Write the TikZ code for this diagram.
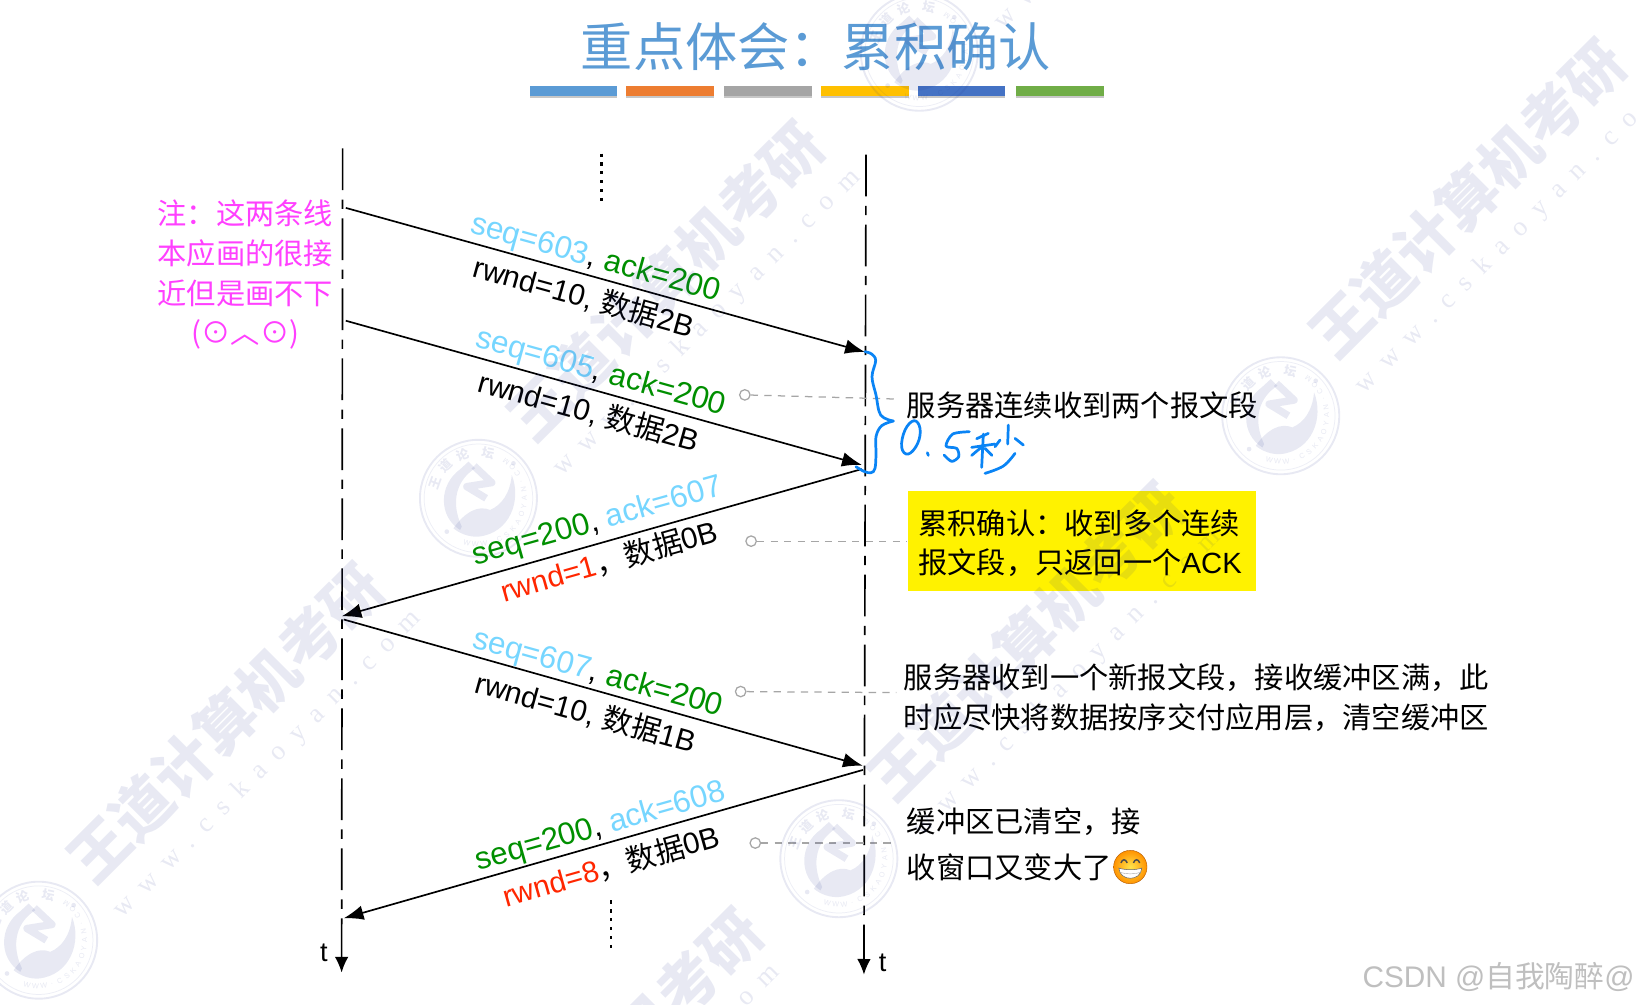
\documentclass[tikz,border=0pt]{standalone}
\usepackage{fontspec}
\setmainfont{Liberation Sans}
\newfontfamily\cjk{Noto Sans CJK SC}
\newfontfamily\wmserif[LetterSpace=50]{Liberation Serif}
\usetikzlibrary{arrows.meta}
\definecolor{titleblue}{HTML}{5B9BD5}
\definecolor{seqcyan}{HTML}{76D6FF}
\definecolor{ackgreen}{HTML}{008F00}
\definecolor{rwndred}{HTML}{FF2600}
\definecolor{notemag}{HTML}{FF40FF}
\definecolor{leadgray}{HTML}{A6A6A6}
\definecolor{handblue}{HTML}{0A84F5}
\definecolor{wmark}{HTML}{1F2F8F}
\newcommand{\segA}[1]{\textcolor{seqcyan}{#1}}
\newcommand{\segG}[1]{\textcolor{ackgreen}{#1}}
\newcommand{\segR}[1]{\textcolor{rwndred}{#1}}
\newcommand{\fwc}{^^^^ff0c}
\newcommand{\fwk}{^^^^ff1a}
\newcommand{\ccomma}{{\cjk\fwc}}
\newcommand{\urltext}{www.cskaoyan.com}
\tikzset{
  lifeline/.style={line width=1.6pt,dash pattern=on 40pt off 9pt on 9pt off 9pt,-{Latex[length=15pt,width=13pt]}},
  msg/.style={line width=1.6pt,-{Latex[length=19pt,width=14pt]}},
  seqlabel/.style={font=\fontsize{30}{30}\selectfont,inner sep=0pt,anchor=center},
  msglabel/.style={font=\fontsize{28.5}{28.5}\selectfont,inner sep=0pt,anchor=center},
  notetext/.style={font=\cjk\fontsize{28}{38}\selectfont,text=notemag,align=center,inner sep=0pt},
  sidetext/.style={font=\cjk\fontsize{28}{38}\selectfont,align=left,inner sep=0pt,anchor=west},
  leaddot/.style={circle,draw=leadgray,line width=1.2pt,fill=white,minimum size=10pt,inner sep=0pt},
  leader/.style={draw=leadgray,line width=1.2pt,dash pattern=on 7pt off 6pt},
  dotsline/.style={line width=2.4pt,dash pattern=on 3pt off 5.5pt},
  barstyle/.style={inner sep=0pt,minimum height=9pt,minimum width=84pt},
  hand/.style={draw=handblue,line width=2.6pt,line cap=round,line join=round},
  wmtext/.style={font=\cjk\bfseries\fontsize{57}{57}\selectfont,text=wmark,text opacity=.10,rotate=45,inner sep=0pt},
  wmurl/.style={font=\wmserif\fontsize{26}{26}\selectfont,text=wmark,text opacity=.10,rotate=45,inner sep=0pt},
  sealtxt/.style={font=\cjk\bfseries\fontsize{12}{12}\selectfont,text=wmark,text opacity=.10,inner sep=0pt},
  sealurl/.style={font=\fontsize{7}{7}\selectfont,text=wmark,text opacity=.10,inner sep=0pt},
  seal/.pic={
    \draw[wmark,opacity=.10,line width=1.8pt] (0,0) circle (56);
    \draw[wmark,opacity=.08,line width=.7pt] (0,0) circle (52);
    \path (160:44pt) node[sealtxt,rotate=70] {王};
    \path (135:44pt) node[sealtxt,rotate=45] {道};
    \path (110:44pt) node[sealtxt,rotate=20] {论};
    \path (78:44pt) node[sealtxt,rotate=-12] {坛};
    \foreach \ch [count=\k] in {W,W,W,.,C,S,K,A,O,Y,A,N,.,C,O,M}{
      \pgfmathsetmacro{\ang}{245+\k*10.5}
      \path (\ang:44pt) node[sealurl,rotate=\ang+90] {\ch};
    }
    \begin{scope}[shift={(-65.4,-65.4)},x=.319pt,y=-.319pt]
      \fill[wmark,opacity=.10] (175,95) -- (195,115) .. controls (140,150) and (120,215) .. (155,290)
        -- (150,300) .. controls (85,260) and (85,165) .. (150,118) -- cycle;
      \fill[wmark,opacity=.10] (130,295) .. controls (165,245) and (205,225) .. (240,240)
        .. controls (275,225) and (300,190) .. (305,135)
        .. controls (335,210) and (300,310) .. (205,320) .. controls (180,322) and (150,312) .. (130,295) -- cycle;
      \draw[wmark,opacity=.10,line width=7pt,line join=round] (192,108) -- (245,158) -- (170,170) -- (228,205);
      \fill[wmark,opacity=.10] (310,100) circle (7);
      \fill[wmark,opacity=.10] (110,305) circle (7);
    \end{scope}
  },
}
\begin{document}
\begin{tikzpicture}[x=1pt,y=-1pt]
\useasboundingbox (0,0) rectangle (1568,962);
\clip (0,0) rectangle (1568,962);
\fill[white] (0,0) rectangle (1568,962);

% title and bars
\node[font=\cjk\fontsize{50}{50}\selectfont,text=titleblue,inner sep=0pt] (title) at (781,45) {重点体会\fwk 累积确认};
\foreach \bx/\bc [count=\i] in {549/5B9BD5,641/ED7D31,735/A5A5A5,828/FFC000,920.5/4472C4,1015/70AD47}{
  \definecolor{bc}{HTML}{\bc}
  \fill[black!22] (\bx-42,86) rectangle (\bx+42,94);
  \node[barstyle,fill=bc] (bar\i) at (\bx,87) {};
}

% lifelines
\coordinate (ltop) at (328,142);
\coordinate (lbot) at (327,931);
\coordinate (rtop) at (829,148);
\coordinate (rbot) at (827,933);
\draw[lifeline] (ltop) -- (lbot);
\draw[lifeline] (rtop) -- (rbot);
\node[font=\fontsize{26}{26}\selectfont,inner sep=0pt] (tl) at (310,912) {t};
\node[font=\fontsize{26}{26}\selectfont,inner sep=0pt] (tr) at (845,922) {t};

% vertical dots
\coordinate (d1a) at (576,147); \coordinate (d1b) at (576,197);
\coordinate (d2a) at (585,862); \coordinate (d2b) at (585,911);
\draw[dotsline] (d1a) -- (d1b);
\draw[dotsline] (d2a) -- (d2b);

% messages
\coordinate (m1a) at (331,199); \coordinate (m1b) at (828,337);
\coordinate (m2a) at (331,307); \coordinate (m2b) at (825,445);
\coordinate (m3a) at (825,449); \coordinate (m3b) at (327,590);
\coordinate (m4a) at (329,593); \coordinate (m4b) at (826,733);
\coordinate (m5a) at (826,737); \coordinate (m5b) at (329,879);
\draw[msg] (m1a) -- (m1b);
\draw[msg] (m2a) -- (m2b);
\draw[msg] (m3a) -- (m3b);
\draw[msg] (m4a) -- (m4b);
\draw[msg] (m5a) -- (m5b);

% message labels
\node[seqlabel,rotate=-15.5] (l1a) at (570,248) {\segA{seq=603}, \segG{ack=200}};
\node[msglabel,rotate=-15.5] (l1b) at (559,284) {rwnd=10, {\cjk 数据}2B};
\node[seqlabel,rotate=-15.5] (l2a) at (575,357) {\segA{seq=605}, \segG{ack=200}};
\node[msglabel,rotate=-15.5] (l2b) at (564,394) {rwnd=10, {\cjk 数据}2B};
\node[seqlabel,rotate=15.8] (l3a) at (572,500) {\segG{seq=200}, \segA{ack=607}};
\node[msglabel,rotate=15.8] (l3b) at (583,537) {\segR{rwnd=1}\ccomma{\cjk 数据}0B};
\node[seqlabel,rotate=-15.5] (l4a) at (572,645) {\segA{seq=607}, \segG{ack=200}};
\node[msglabel,rotate=-15.5] (l4b) at (561,682) {rwnd=10, {\cjk 数据}1B};
\node[seqlabel,rotate=15.8] (l5a) at (575,792) {\segG{seq=200}, \segA{ack=608}};
\node[msglabel,rotate=15.8] (l5b) at (585,829) {\segR{rwnd=8}\ccomma{\cjk 数据}0B};

% note on the left
\node[notetext] (note) at (235,263) {注\fwk 这两条线\\本应画的很接\\近但是画不下\\(⊙︿⊙)};

% leaders
\node[leaddot] (c1) at (713,378) {}; \coordinate (e1) at (858,382);
\node[leaddot] (c2) at (719,518) {}; \coordinate (e2) at (868,518);
\node[leaddot] (c3) at (709,662) {}; \coordinate (e3) at (858,663);
\node[leaddot] (c4) at (723,807) {}; \coordinate (e4) at (858,807);
\draw[leader] (c1) -- (e1);
\draw[leader] (c2) -- (e2);
\draw[leader] (c3) -- (e3);
\draw[leader] (c4) -- (e4);

% side texts
\node[sidetext] (s1) at (868,388) {服务器连续收到两个报文段};
\fill[yellow] (869,470) rectangle (1202,566);
\node[sidetext] (s2) at (879,520) {累积确认\fwk 收到多个连续\\报文段\fwc 只返回一个{\rmfamily ACK}};
\node[sidetext] (s3) at (865,668) {服务器收到一个新报文段\fwc 接收缓冲区满\fwc 此\\时应尽快将数据按序交付应用层\fwc 清空缓冲区};
\node[sidetext] (s4) at (868,787) {缓冲区已清空\fwc 接};
\node[sidetext] (s5) at (868,830) {收窗口又变大了};

% emoji
\begin{scope}[shift={(1082,830)}]
  \shade[inner color=yellow!70!orange!70!white,outer color=orange!85!yellow,draw=orange!70!black,line width=.4pt] (0,0) circle (16);
  \draw[line width=1.4pt,black!70] (-9,-4) .. controls (-7.5,-8) and (-4.5,-8) .. (-3,-4);
  \draw[line width=1.4pt,black!70] (3,-4) .. controls (4.5,-8) and (7.5,-8) .. (9,-4);
  \fill[white,draw=black!60,line width=.5pt] (-11,1) .. controls (-5,3) and (5,3) .. (11,1) .. controls (10,14) and (-10,14) .. (-11,1) -- cycle;
  \draw[black!35,line width=.4pt] (-10,5) .. controls (-4,7) and (4,7) .. (10,5);
\end{scope}

% handwritten brace and 0.5 seconds
\begin{scope}[shift={(804.1,325.5)},x=.3191pt,y=-.3191pt]
  \draw[hand] plot[smooth,tension=.6] coordinates {(75,35) (95,42) (107,62) (96,110) (108,165) (122,225) (160,243)};
  \draw[hand] plot[smooth,tension=.6] coordinates {(160,243) (125,257) (108,290) (108,340) (105,385) (93,398) (72,394) (48,380)};
  \draw[hand] plot[smooth cycle,tension=.7] coordinates {(222,242) (195,270) (185,322) (205,342) (233,310) (240,265)};
  \draw[hand] (262,338) -- (265,346);
  \draw[hand] plot[smooth,tension=.5] coordinates {(388,275) (338,282) (318,318) (350,325) (356,350) (335,364) (312,345)};
  \draw[hand] (445,280) -- (410,296);
  \draw[hand] (395,322) -- (465,312);
  \draw[hand] (430,282) -- (425,382);
  \draw[hand] (426,320) -- (395,346);
  \draw[hand] (435,325) -- (456,346);
  \draw[hand] (505,255) -- (503,312);
  \draw[hand] (480,300) -- (465,320);
  \draw[hand] (525,295) -- (550,315);
  \draw[hand] plot[smooth,tension=.6] coordinates {(525,340) (490,378) (435,400)};
\end{scope}

% CSDN mark
\node[font=\fontsize{28.5}{28.5}\selectfont,text=black!25,inner sep=0pt,anchor=east] (csdn) at (1565,935) {CSDN @{\cjk 自我陶醉}@};

% watermark
\node[wmtext] (w1) at (1405,190) {王道计算机考研};
\node[wmtext] (w2) at (637,269) {王道计算机考研};
\node[wmtext] (w3) at (216,692) {王道计算机考研};
\node[wmtext] (w4) at (982,614) {王道计算机考研};
\node[wmtext] (w5) at (578,1022) {王道计算机考研};
\node[wmurl] (u1) at (1445,230) {\urltext};
\node[wmurl] (u2) at (677,309) {\urltext};
\node[wmurl] (u3) at (256,732) {\urltext};
\node[wmurl] (u4) at (1022,654) {\urltext};
\node[wmurl] (u5) at (1099,-118) {\urltext};
\node[wmurl] (u6) at (600,1070) {\urltext};
\pic at (458,477) {seal};
\pic at (1226,398) {seal};
\pic at (803,822) {seal};
\pic at (37,900) {seal};
\pic at (880,50) {seal};
\end{tikzpicture}
\end{document}
